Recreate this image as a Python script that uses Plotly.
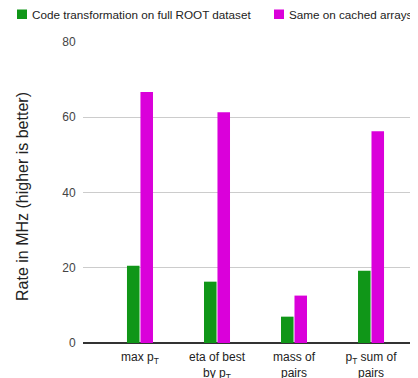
import plotly.graph_objects as go

categories = ["max p<sub>T</sub>", "eta of best<br>by p<sub>T</sub>", "mass of<br>pairs", "p<sub>T</sub> sum of<br>pairs"]
full_root = [20.5, 16.3, 7.0, 19.2]
cached = [66.7, 61.3, 12.6, 56.3]
series_names = ["Code transformation on full ROOT dataset", "Same on cached arrays"]
series_colors = ["#109618", "#DA00DA"]
y_ticks = [0, 20, 40, 60, 80]

# page has an 8px body margin, so figure is 8px smaller
OFF = 8
W, H = 418 - OFF, 378 - OFF
L, R, T = 83 - OFF, 0, 42 - OFF
PB = 343 - OFF          # plot bottom in figure px
B = H - PB
PW, PH = W - L - R, PB - T

def px(x):  # page x -> paper x
    return (x - OFF - L) / PW

def py(y):  # page y -> paper y
    return (PB - (y - OFF)) / PH

fig = go.Figure()
for vals, name, col in zip([full_root, cached], series_names, series_colors):
    fig.add_trace(go.Bar(x=list(range(len(categories))), y=vals, name=name,
                         marker=dict(color=col, line=dict(width=0))))

font = "Liberation Sans, Arial, Helvetica, sans-serif"

# manual legend
shapes, annotations = [], []
leg_sq_x = [17, 274]
for sx, name, col in zip(leg_sq_x, series_names, series_colors):
    shapes.append(dict(type="rect", xref="paper", yref="paper",
                       x0=px(sx), x1=px(sx + 10), y0=py(19), y1=py(9.5),
                       fillcolor=col, line=dict(width=0), layer="above"))
    annotations.append(dict(text=name, xref="paper", yref="paper",
                            x=px(sx + 14), y=py(14.5), xanchor="left", yanchor="middle",
                            showarrow=False, borderpad=0,
                            font=dict(size=11.7, color="#222222")))

annotations.append(dict(text="Rate in MHz (higher is better)", textangle=-90,
                        xref="paper", yref="paper", x=px(23), y=py(197),
                        xanchor="center", yanchor="middle", showarrow=False,
                        font=dict(size=16, color="#222222")))

fig.update_layout(
    width=W, height=H,
    margin=dict(l=L, r=R, t=T, b=B, pad=0, autoexpand=False),
    paper_bgcolor="white", plot_bgcolor="white",
    barmode="group", bargap=0.65, bargroupgap=0.07,
    font=dict(family=font, size=12, color="#222222"),
    showlegend=False,
    xaxis=dict(range=[-0.74, 3.61], tickmode="array",
               tickvals=list(range(len(categories))), ticktext=categories,
               showgrid=False, zeroline=False, showline=False,
               ticks="outside", ticklen=3, tickcolor="rgba(0,0,0,0)",
               tickfont=dict(size=12, color="#222222"), fixedrange=True),
    yaxis=dict(range=[0, 80], tickmode="array", tickvals=y_ticks,
               showgrid=True, gridcolor="#CCCCCC", gridwidth=1,
               zeroline=True, zerolinecolor="#333333", zerolinewidth=2,
               showline=False, ticks="outside", ticklen=4, tickcolor="rgba(0,0,0,0)",
               tickfont=dict(size=12, color="#444444"), fixedrange=True),
    shapes=shapes,
    annotations=annotations,
)

fig.write_html("out.html")
